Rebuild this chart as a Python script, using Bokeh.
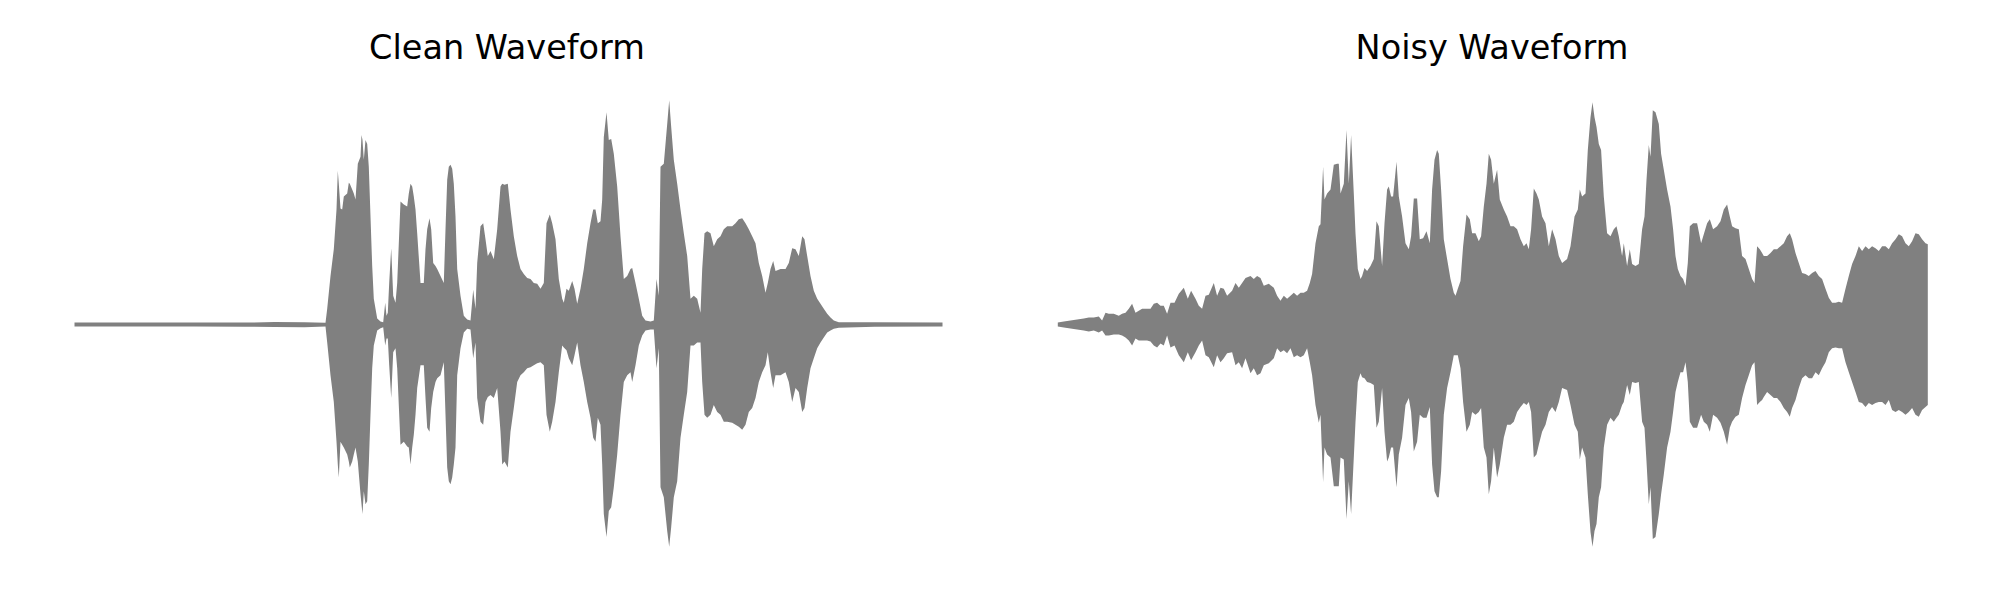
from bokeh.plotting import figure
from bokeh.models import Range1d, Spacer
from bokeh.layouts import row, column
from bokeh.embed import file_html
from bokeh.resources import INLINE

# ---- Clean waveform envelope (time in frames, amplitude in arbitrary units) ----
clean_t = [
    0, 120, 170, 200, 230, 251, 252.7, 256, 259.3, 262,
    263.3, 264.3, 266, 267.7, 269.3, 272.7, 274.3, 275.3, 277.7, 279.3,
    281, 283.3, 286, 287, 288, 289.3, 291, 292.7, 294.3, 296,
    297.7, 299.3, 302.7, 306, 308.7, 310.7, 312, 313.3, 314.7, 316.7,
    318.7, 321, 322.7, 326, 329.3, 332.7, 334.3, 336, 337.7, 339.3,
    341, 342.7, 346, 349.3, 351, 352.7, 355, 356.7, 358.7, 361,
    362.7, 366, 369.3, 371, 372.7, 374.3, 376, 377.7, 379.3, 381,
    382.7, 386, 389.3, 392.7, 396, 398.7, 401, 402.7, 406, 408.7,
    411, 413.3, 416, 419.3, 422.7, 426, 427.7, 430, 433.3, 436,
    439.3, 442.7, 446, 449.3, 452.7, 456, 459.3, 462.7, 466, 469.3,
    472, 475.3, 477.7, 481, 484.3, 487.7, 489.3, 492, 494.3, 497.7,
    500, 502.7, 506, 509.3, 512.7, 516, 518.7, 521, 523.3, 526,
    527.7, 529.3, 532, 534.3, 536.7, 539.3, 542.7, 546, 549.3, 552.7,
    556, 557.7, 561, 564.3, 567.7, 571, 576, 579.3, 582, 584.3,
    586, 589.3, 592.7, 594.7, 596.7, 599.3, 602.7, 606, 609.3, 612.7,
    616, 619.3, 622.7, 626, 627.7, 630, 632.7, 636, 639.3, 642.7,
    646, 649.3, 652.7, 657.7, 661, 664.3, 667.7, 671, 674.3, 677.7,
    681, 684.3, 687.7, 691, 693.3, 696, 698.7, 701, 706, 711,
    714.3, 717.7, 721, 724.3, 727.7, 730, 732.7, 736, 739.3, 742.7,
    746, 749.3, 752.7, 756, 759.3, 764.3, 800, 868,
]
clean_upper = [
    2, 2, 2, 2.5, 2.3, 1.7, 16, 49, 76, 116,
    155, 142, 117, 116, 129, 132, 143, 142, 136, 132,
    126, 162, 169, 191, 186, 166, 186, 182, 159, 109,
    59, 26, 6, 3, 2.3, 22, 9, 12, 42, 77,
    29, 22, 42, 124, 121, 119, 132, 142, 139, 129,
    116, 92, 42, 42, 76, 96, 107, 96, 62, 59,
    56, 49, 42, 96, 146, 159, 161, 157, 142, 109,
    56, 29, 9, 5, 4, 35, 16, 62, 99, 102,
    86, 69, 74, 66, 96, 139, 142, 141, 142, 116,
    89, 69, 56, 51, 47, 46, 42, 41, 36, 42,
    102, 111, 102, 86, 46, 26, 22, 36, 34, 44,
    36, 21, 36, 56, 82, 102, 116, 116, 102, 104,
    126, 189, 214, 186, 187, 172, 139, 89, 46, 49,
    56, 57, 42, 26, 9, 4, 3, 4, 46, 29,
    159, 162, 202, 226, 199, 166, 142, 116, 92, 69,
    26, 29, 26, 12, 56, 92, 94, 92, 79, 86,
    89, 96, 99, 99, 102, 106, 107, 102, 96, 89,
    82, 62, 49, 32, 42, 56, 64, 54, 56, 56,
    62, 77, 76, 69, 89, 86, 69, 49, 34, 26,
    21, 16, 11, 7, 4, 2.3, 2.2, 2,
]
clean_lower = [
    -2, -2, -2.2, -2.5, -2.7, -2, -18, -51, -78, -118,
    -141, -154, -118, -121, -124, -131, -138, -144, -138, -131,
    -124, -138, -171, -181, -191, -168, -181, -178, -141, -91,
    -44, -21, -6, -3.7, -2.7, -21, -14, -14, -41, -74,
    -28, -24, -44, -121, -118, -123, -124, -141, -124, -111,
    -91, -64, -41, -41, -74, -104, -108, -84, -68, -58,
    -54, -51, -38, -91, -144, -158, -161, -154, -141, -124,
    -51, -24, -8, -4.3, -5, -34, -18, -74, -98, -101,
    -78, -73, -71, -74, -64, -108, -141, -138, -144, -108,
    -84, -58, -51, -48, -44, -43, -41, -39, -38, -41,
    -91, -108, -98, -78, -48, -21, -23, -26, -34, -41,
    -31, -18, -41, -58, -78, -94, -114, -118, -94, -101,
    -141, -191, -214, -188, -184, -164, -131, -91, -58, -51,
    -48, -58, -41, -21, -11, -6, -5, -5, -44, -24,
    -164, -174, -208, -224, -204, -174, -158, -114, -91, -68,
    -21, -21, -18, -18, -58, -91, -94, -91, -81, -88,
    -91, -98, -98, -99, -101, -103, -106, -101, -88, -84,
    -74, -58, -48, -41, -28, -48, -64, -51, -51, -48,
    -58, -78, -64, -68, -88, -84, -64, -44, -34, -24,
    -18, -13, -8, -6, -4.3, -3.3, -2.2, -2,
]

# ---- Noisy waveform envelope ----
noisy_t = [
    0, 6, 12.7, 19.3, 26, 31, 36, 41, 44.3, 47.7,
    51, 56, 61, 64.3, 67.7, 71, 74.3, 77.7, 81, 84.3,
    89.3, 92.7, 96, 99.3, 102.7, 106, 109.3, 112.7, 116.7, 121,
    126, 130, 133.3, 137.7, 141, 144.3, 147.7, 151, 156, 159.3,
    162.7, 166, 169.3, 174.3, 177.7, 181, 184.3, 187.7, 192.7, 196,
    199.3, 202.7, 206, 211, 216, 219.3, 222.7, 226, 229.3, 232.7,
    236, 239.3, 242.7, 246, 249.3, 252, 254.3, 257.7, 261, 262.7,
    265.3, 266.7, 269.3, 272.7, 276, 279.3, 281, 282.7, 286, 288.7,
    291, 293.3, 296, 297.7, 300, 302.7, 304.3, 306.7, 309.3, 312.7,
    316, 318.7, 321, 324.3, 326.7, 329.3, 331, 333.3, 335.3, 338.7,
    341, 344.3, 347.7, 351, 353.3, 356, 359.3, 362, 365.3, 368.7,
    372, 374.3, 376.7, 379.3, 381, 383.3, 386, 389.3, 392.7, 396,
    397.7, 400, 402.7, 405.3, 408.7, 412, 414.3, 417.7, 421, 423.3,
    426, 428.7, 431, 433.3, 436, 439.3, 442, 446, 449.3, 452.7,
    456, 459.3, 462.7, 466, 468.7, 471, 473.3, 476, 478.7, 481,
    484.3, 487.7, 491, 494.3, 497.7, 501, 504.3, 509.3, 512.7, 516.7,
    520, 522, 524.3, 527.7, 530, 532.7, 534.7, 536.7, 538.7, 541,
    543.3, 546, 549.3, 552.7, 556, 558.7, 561, 564.3, 566, 569.3,
    572, 574.3, 577.7, 581, 584.3, 586.7, 588.7, 591, 592.7, 595,
    597.7, 601, 603.3, 606, 609.3, 612.7, 615.3, 617.7, 620, 622.7,
    625.3, 627.7, 630, 632, 635.3, 639.3, 643.3, 646, 649.3, 652,
    655.3, 659.3, 662.7, 666, 669.3, 672, 674.3, 677.7, 681, 684.3,
    687.7, 691, 694.3, 696.7, 699.3, 702, 704.3, 706, 709.3, 712.7,
    716, 719.3, 722.7, 726, 729.3, 732, 734.3, 737.7, 741, 744.3,
    747.7, 751, 754.3, 757.7, 761, 764.3, 767.7, 771, 774.3, 777.7,
    781, 784.3, 787.7, 791, 794.3, 797.7, 801, 804.3, 807.7, 811,
    814.3, 817.7, 821, 824.3, 827.7, 831, 834.3, 837.7, 841, 844.3,
    847.7, 851, 854.3, 857.7, 861, 864.3, 867.7, 870,
]
noisy_upper = [
    2, 3, 4, 5, 6, 7, 7, 8, 4, 12,
    11, 11, 9, 11, 12, 16, 21, 12, 14, 16,
    16, 16, 21, 22, 19, 19, 11, 22, 22, 31,
    37, 26, 34, 26, 19, 16, 29, 30, 42, 29,
    37, 36, 29, 34, 42, 37, 42, 47, 49, 46,
    49, 47, 39, 41, 37, 29, 24, 29, 26, 29,
    32, 29, 32, 32, 34, 42, 51, 82, 99, 101,
    159, 126, 132, 136, 161, 162, 162, 132, 142, 196,
    142, 191, 132, 92, 56, 46, 49, 57, 54, 59,
    66, 104, 99, 59, 102, 136, 139, 129, 129, 164,
    129, 109, 82, 76, 89, 127, 127, 86, 87, 94,
    82, 136, 166, 176, 172, 136, 86, 66, 46, 32,
    29, 36, 44, 79, 111, 106, 92, 92, 84, 89,
    119, 142, 172, 166, 142, 156, 126, 116, 109, 99,
    99, 96, 86, 79, 82, 76, 96, 137, 132, 126,
    109, 102, 79, 96, 86, 69, 62, 66, 79, 109,
    116, 136, 129, 132, 176, 209, 224, 209, 199, 182,
    176, 129, 92, 89, 96, 99, 89, 69, 82, 59,
    76, 61, 59, 61, 96, 109, 146, 181, 169, 216,
    214, 202, 172, 156, 136, 119, 96, 69, 56, 49,
    46, 39, 62, 99, 102, 102, 82, 91, 102, 106,
    96, 99, 104, 116, 121, 109, 99, 97, 96, 69,
    66, 56, 46, 42, 79, 76, 72, 69, 69, 72,
    76, 76, 79, 82, 89, 92, 86, 72, 62, 52,
    51, 49, 52, 54, 49, 46, 36, 27, 22, 22,
    23, 22, 36, 49, 61, 69, 79, 74, 79, 76,
    79, 77, 74, 79, 79, 76, 82, 86, 91, 89,
    82, 79, 84, 92, 91, 86, 82, 81,
]
noisy_lower = [
    -2, -3, -4, -5, -6, -7, -6, -8, -6, -11,
    -11, -10, -10, -11, -13, -16, -21, -14, -16, -16,
    -16, -17, -21, -23, -19, -21, -11, -23, -21, -31,
    -38, -28, -36, -28, -21, -16, -31, -33, -43, -31,
    -38, -34, -29, -28, -41, -38, -44, -34, -49, -44,
    -51, -49, -41, -39, -34, -24, -28, -26, -29, -24,
    -33, -31, -33, -31, -24, -38, -51, -81, -99, -91,
    -159, -124, -131, -134, -163, -163, -163, -134, -136, -196,
    -158, -191, -134, -98, -58, -49, -53, -54, -58, -59,
    -61, -104, -98, -64, -108, -138, -134, -124, -124, -164,
    -131, -114, -81, -74, -88, -128, -118, -91, -94, -94,
    -83, -141, -168, -174, -174, -148, -91, -64, -48, -31,
    -31, -31, -44, -78, -108, -101, -88, -91, -88, -84,
    -124, -134, -171, -158, -124, -154, -141, -114, -101, -101,
    -98, -88, -83, -79, -81, -78, -88, -134, -131, -121,
    -108, -101, -88, -83, -88, -78, -64, -66, -81, -101,
    -108, -136, -124, -134, -171, -209, -224, -208, -201, -174,
    -164, -124, -101, -94, -98, -94, -91, -81, -78, -61,
    -71, -58, -59, -58, -98, -104, -138, -181, -164, -216,
    -214, -191, -171, -151, -124, -108, -88, -68, -58, -48,
    -48, -38, -58, -98, -104, -104, -91, -98, -101, -108,
    -91, -94, -99, -108, -121, -104, -98, -93, -91, -74,
    -61, -51, -41, -38, -81, -78, -76, -73, -68, -71,
    -74, -74, -78, -84, -88, -93, -84, -76, -64, -54,
    -51, -54, -54, -48, -51, -44, -38, -28, -24, -23,
    -24, -24, -38, -48, -58, -68, -78, -79, -83, -79,
    -81, -79, -78, -78, -81, -76, -86, -88, -86, -88,
    -91, -88, -84, -91, -93, -86, -83, -81,
]

titles = ["Clean Waveform", "Noisy Waveform"]
WAVE_COLOR = "#808080"


def make_panel(title, t, upper, lower, page_left, border_left, wave_origin):
    # page_left: page x of the canvas; border_left: empty space before the frame;
    # wave_origin: page x where the waveform's frame 0 sits
    frame_w = 992 - border_left
    x_start = page_left + border_left - wave_origin
    p = figure(
        width=992, height=572, title=title,
        output_backend="svg", toolbar_location=None,
        x_axis_type=None, y_axis_type=None,
        x_range=Range1d(x_start, x_start + frame_w),
        y_range=Range1d(-270, 255),
        min_border=0, min_border_left=border_left,
        outline_line_color=None,
        background_fill_color="white", border_fill_color="white",
    )
    p.grid.visible = False
    p.title.align = "center"
    p.title.text_font = "DejaVu Sans"
    p.title.text_font_size = "33.5px"
    p.title.text_font_style = "normal"
    p.title.text_color = "black"
    p.varea(x=t, y1=lower, y2=upper, fill_color=WAVE_COLOR)
    return p


p1 = make_panel(titles[0], clean_t, clean_upper, clean_lower, 0, 21, 74)
p2 = make_panel(titles[1], noisy_t, noisy_upper, noisy_lower, 992, 7, 1057.3)

layout = column(Spacer(width=1984, height=20), row(p1, p2))

open("out.html", "w").write(file_html(layout, INLINE))
